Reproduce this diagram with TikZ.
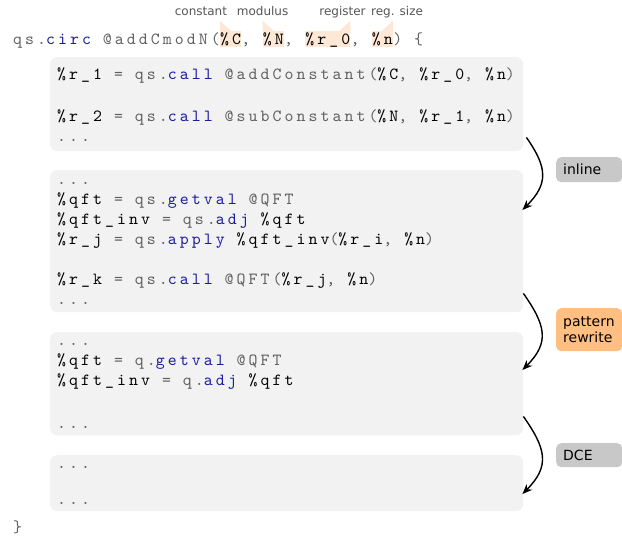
\documentclass[tikz,border=0pt]{standalone}
\usepackage{fontspec}
\usetikzlibrary{arrows.meta,positioning}
\newfontfamily\codefont{lmmono10-regular}[Extension=.otf,LetterSpace=18]
\newfontfamily\notefont{DejaVu Sans}
\definecolor{codegray}{RGB}{95,95,95}
\definecolor{codeblue}{RGB}{28,28,160}
\definecolor{boxgray}{RGB}{242,242,242}
\definecolor{hlpeach}{RGB}{253,231,213}
\definecolor{passgray}{RGB}{200,200,200}
\definecolor{passorange}{RGB}{255,191,130}
\definecolor{notegray}{RGB}{85,85,85}
\newcommand\cvar[1]{\textcolor{black}{#1}}
\newcommand\ckey[1]{\textcolor{codeblue}{#1}}

\begin{document}
\begin{tikzpicture}[x=1pt,y=-1pt,
  every node/.style={inner sep=0pt},
  codebox/.style={fill=boxgray, rounded corners=7pt, minimum width=473pt, anchor=north west},
  code/.style={anchor=base west, font=\codefont\fontsize{17}{20}\selectfont, text=codegray},
  arg/.style={code, fill=hlpeach, text=black, text height=13pt, text depth=3pt},
  note/.style={anchor=base, font=\notefont\fontsize{12}{14}\selectfont, text=notegray},
  pass/.style={rounded corners=5pt, anchor=north west, align=left, text width=52pt,
    inner xsep=7pt, font=\notefont\fontsize{14}{16}\selectfont},
  flow/.style={-{Stealth[length=10pt,width=8pt]}, line width=1.4pt}]
  \useasboundingbox (0,0) rectangle (622,536);

  % signature with highlighted arguments
  \node[code] (head) at (13,44) {qs.\ckey{circ} @addCmodN(};
  \node[arg] (argc) at (head.base east) {\%C};
  \node[code] (sep1) at (argc.base east) {,\mbox{\ }};
  \node[arg] (argn) at (sep1.base east) {\%N};
  \node[code] (sep2) at (argn.base east) {,\mbox{\ }};
  \node[arg] (argr) at (sep2.base east) {\%r\_0};
  \node[code] (sep3) at (argr.base east) {,\mbox{\ }};
  \node[arg] (args) at (sep3.base east) {\%n};
  \node[code] (hend) at (args.base east) {) \{};
  \fill[hlpeach] (argc.north west) -- ++(0,-10) -- ([xshift=11pt]argc.north west) -- cycle;
  \fill[hlpeach] (argn.north west) -- ++(0,-10) -- ([xshift=11pt]argn.north west) -- cycle;
  \fill[hlpeach] (argr.north east) -- ++(0,-10) -- ([xshift=-11pt]argr.north east) -- cycle;
  \fill[hlpeach] (args.north east) -- ++(0,-10) -- ([xshift=-11pt]args.north east) -- cycle;
  \node[note] (lconst) at ([xshift=-19pt,yshift=15pt]argc.north west) {constant};
  \node[note] (lmod) at ([yshift=15pt]argn.north west) {modulus};
  \node[note] (lreg) at ([xshift=-8pt,yshift=15pt]argr.north east) {register};
  \node[note] (lsize) at ([xshift=4pt,yshift=15pt]args.north east) {reg. size};

  \node[codebox, minimum height=94pt] (blk1) at (50,57) {};
  \node[codebox, minimum height=142pt] (blk2) at (50,170) {};
  \node[codebox, minimum height=103pt] (blk3) at (50,332) {};
  \node[codebox, minimum height=56pt] (blk4) at (50,455) {};

  \node[code] (c1a) at (57,79) {\cvar{\%r\_1} = qs.\ckey{call} @addConstant(\cvar{\%C}, \cvar{\%r\_0}, \cvar{\%n})};
  \node[code] (c1b) at (57,121) {\cvar{\%r\_2} = qs.\ckey{call} @subConstant(\cvar{\%N}, \cvar{\%r\_1}, \cvar{\%n})};
  \node[code] (c1c) at (57,141) {...};

  \node[code] (c2a) at (57,184) {...};
  \node[code] (c2b) at (57,204) {\cvar{\%qft} = qs.\ckey{getval} @QFT};
  \node[code] (c2c) at (57,224) {\cvar{\%qft\_inv} = qs.\ckey{adj} \cvar{\%qft}};
  \node[code] (c2d) at (57,244) {\cvar{\%r\_j} = qs.\ckey{apply} \cvar{\%qft\_inv}(\cvar{\%r\_i}, \cvar{\%n})};
  \node[code] (c2e) at (57,284) {\cvar{\%r\_k} = qs.\ckey{call} @QFT(\cvar{\%r\_j}, \cvar{\%n})};
  \node[code] (c2f) at (57,304) {...};

  \node[code] (c3a) at (57,345) {...};
  \node[code] (c3b) at (57,365) {\cvar{\%qft} = q.\ckey{getval} @QFT};
  \node[code] (c3c) at (57,385) {\cvar{\%qft\_inv} = q.\ckey{adj} \cvar{\%qft}};
  \node[code] (c3d) at (57,428) {...};

  \node[code] (c4a) at (57,468) {...};
  \node[code] (c4b) at (57,504) {...};

  \node[code] (tail) at (13,532) {\}};

  \node[pass, fill=passgray, minimum height=25pt] (inline) at (556,157) {inline};
  \node[pass, fill=passorange, minimum height=43pt] (rewrite) at (556,308) {pattern\\rewrite};
  \node[pass, fill=passgray, minimum height=24pt] (dce) at (556,443) {DCE};

  \draw[flow] ([xshift=3pt,yshift=14pt]blk1.south east) to[out=-55,in=45,looseness=1.3] ([xshift=-1pt,yshift=-40pt]blk2.north east);
  \draw[flow] ([yshift=19pt]blk2.south east) to[out=-55,in=45,looseness=1.3] ([xshift=-1pt,yshift=-38pt]blk3.north east);
  \draw[flow] ([yshift=19pt]blk3.south east) to[out=-55,in=45,looseness=1.3] ([xshift=-1pt,yshift=-39pt]blk4.north east);
\end{tikzpicture}
\end{document}
